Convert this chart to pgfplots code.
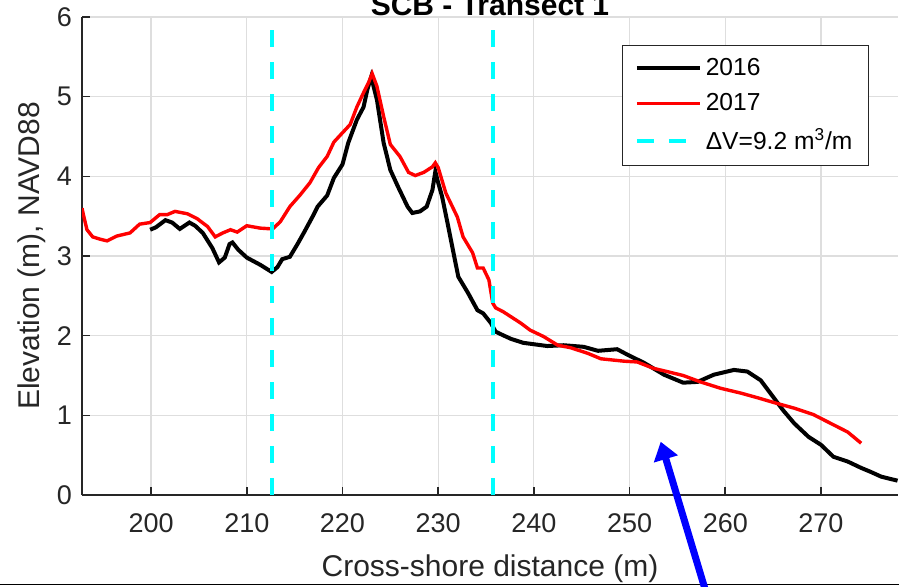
\documentclass[border=0pt]{standalone}
\usepackage{fontspec}
\setmainfont{Liberation Sans}
\usepackage{pgfplots}
\pgfplotsset{compat=1.18}
\usetikzlibrary{arrows.meta}
\definecolor{axgray}{rgb}{0.15,0.15,0.15}
\definecolor{gridgray}{rgb}{0.87,0.87,0.87}
\definecolor{mcyan}{rgb}{0,1,1}
\definecolor{mblue}{rgb}{0,0,1}
\definecolor{mred}{rgb}{1,0,0}
\begin{document}
\begin{tikzpicture}
\begin{axis}[
  at={(0,0)}, anchor=south west, scale only axis,
  width=408pt, height=239pt,
  xmin=192.78, xmax=278.05, ymin=0, ymax=6,
  xtick={200,210,...,270}, ytick={0,1,...,6},
  axis x line*=bottom, axis y line*=left,
  axis line style={-, draw=axgray, line width=0.8pt},
  tick align=inside, major tick length=4pt,
  tick style={draw=axgray, line width=0.8pt},
  grid=major, major grid style={draw=gridgray, line width=0.6pt},
  /pgf/number format/assume math mode=true,
  ticklabel style={font=\fontsize{13.5}{16}\selectfont, text=axgray},
  xticklabel style={yshift=-6pt},
  yticklabel style={xshift=-1.5pt},
  xlabel={Cross-shore distance (m)},
  ylabel={Elevation (m), NAVD88},
  label style={font=\fontsize{15}{18}\selectfont, text=axgray},
  xlabel style={at={(axis description cs:0.5,-0.1715)}, anchor=base},
  ylabel style={at={(axis description cs:-0.052,0.5)}, anchor=base},
  legend style={at={(0.9645,0.942)}, anchor=north east, draw=axgray, line width=0.6pt,
    fill=white, font=\fontsize{12.3}{14}\selectfont, inner xsep=6pt, inner ysep=4.5pt,
    row sep=3.5pt, nodes={inner sep=2pt, anchor=west}},
  legend cell align=left,
  legend image code/.code={\draw[#1] (0pt,0pt) -- (31.5pt,0pt);},
]
\addplot[black, line width=2pt] coordinates {
(199.9,3.33) (200.5,3.36) (201.5,3.45) (202.2,3.42) (203.0,3.34) (204.0,3.42)
(204.6,3.38) (205.4,3.29) (206.4,3.10) (207.1,2.92) (207.7,2.98) (208.2,3.15)
(208.5,3.17) (209.1,3.08) (210.0,2.98) (211.4,2.89) (212.6,2.80) (213.2,2.86)
(213.7,2.96) (214.5,2.99) (215.3,3.15) (216.0,3.30) (216.9,3.50) (217.4,3.62)
(218.4,3.76) (219.1,3.98) (220.0,4.15) (220.6,4.42) (221.5,4.71) (222.2,4.87)
(222.6,5.09) (223.0,5.25) (223.6,4.96) (224.3,4.42) (225.0,4.08) (225.8,3.87)
(226.8,3.62) (227.3,3.54) (228.1,3.56) (228.8,3.62) (229.4,3.83) (229.7,4.06)
(230.0,3.92) (230.4,3.75) (231.0,3.40) (231.6,3.04) (232.1,2.74) (233.1,2.54)
(234.1,2.32) (234.7,2.28) (235.5,2.16) (236.0,2.05) (236.7,2.01) (237.6,1.96)
(238.9,1.91) (241.4,1.87) (243.1,1.88) (245.2,1.86) (246.7,1.81) (248.7,1.83)
(249.8,1.76) (251.5,1.66) (253.6,1.51) (255.6,1.41) (257.1,1.42) (258.8,1.51)
(260.9,1.57) (262.3,1.55) (263.7,1.44) (264.7,1.28) (266.0,1.07) (267.2,0.90)
(268.7,0.73) (270.0,0.63) (271.3,0.48) (272.8,0.42) (274.2,0.34) (275.2,0.29)
(276.3,0.23) (278.0,0.18)
};
\addlegendentry{2016}
\addplot[mred, line width=1.7pt] coordinates {
(192.78,3.60) (193.0,3.48) (193.3,3.33) (193.9,3.24) (194.7,3.21) (195.4,3.19)
(196.4,3.25) (197.8,3.29) (198.8,3.40) (199.9,3.42) (200.9,3.52) (201.7,3.52)
(202.5,3.56) (203.8,3.53) (204.8,3.47) (205.9,3.37) (206.7,3.24) (207.5,3.29)
(208.3,3.33) (209.0,3.30) (210.0,3.38) (211.4,3.35) (212.7,3.34) (213.5,3.43)
(214.5,3.62) (215.6,3.77) (216.6,3.92) (217.5,4.11) (218.4,4.25) (219.1,4.43)
(220.1,4.56) (220.8,4.65) (221.5,4.87) (222.2,5.05) (222.7,5.17) (223.1,5.29)
(223.6,5.13) (224.3,4.75) (225.0,4.40) (226.0,4.25) (226.9,4.05) (227.6,4.01)
(228.5,4.05) (229.4,4.12) (229.7,4.17) (230.0,4.11) (230.8,3.79) (232.0,3.49)
(232.6,3.24) (233.6,3.04) (234.1,2.85) (234.7,2.85) (235.3,2.70) (235.7,2.41)
(236.0,2.35) (236.8,2.30) (238.6,2.16) (239.6,2.07) (241.0,1.99) (242.5,1.88)
(243.8,1.85) (245.6,1.78) (247.0,1.71) (249.4,1.68) (250.8,1.67) (252.5,1.59)
(253.9,1.55) (255.6,1.50) (257.4,1.42) (259.5,1.34) (261.6,1.28) (263.4,1.22)
(265.1,1.16) (267.2,1.09) (269.2,1.01) (271.0,0.90) (272.8,0.79) (274.2,0.65)
};
\addlegendentry{2017}
\addplot[mcyan, line width=2pt, dash pattern=on 8.5pt off 7.5pt] coordinates {(212.63,0) (212.63,6)};
\addlegendentry{ΔV=9.2 m\textsuperscript{3}/m}
\addplot[mcyan, line width=2pt, dash pattern=on 8.5pt off 7.5pt, forget plot] coordinates {(235.76,0) (235.76,6)};
\end{axis}
\node[anchor=base, font=\bfseries\fontsize{15}{18}\selectfont] at (204pt,240pt) {SCB - Transect 1};
\draw[black, line width=0.6pt] (-41pt,-44.65pt) -- (408.5pt,-44.65pt);
\draw[mblue, line width=3.5pt, -{Triangle[length=9pt,width=12pt]}] (313pt,-52pt) -- (289.35pt,26.65pt);
\pgfresetboundingbox
\path[use as bounding box] (-41pt,-45.5pt) rectangle (408.5pt,247.5pt);
\end{tikzpicture}
\end{document}
